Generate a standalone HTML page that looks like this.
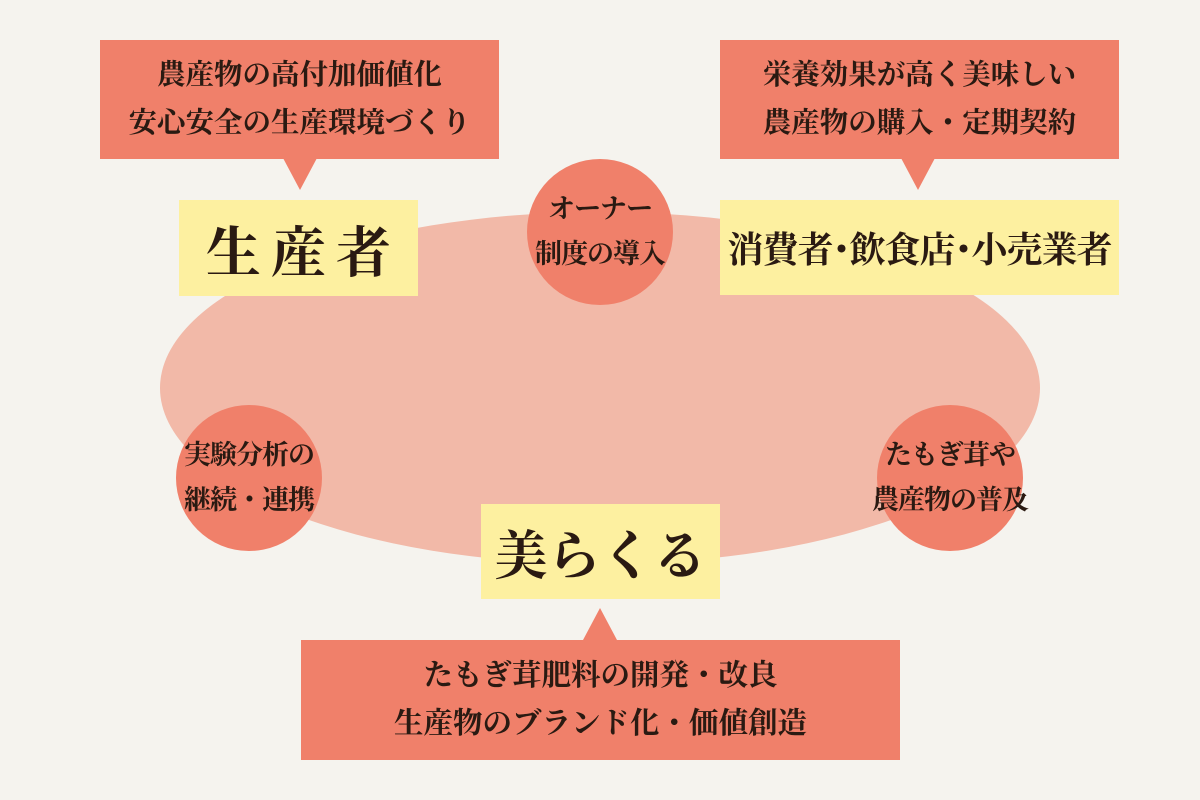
<!DOCTYPE html>
<html><head><meta charset="utf-8"><style>
*{margin:0;padding:0;box-sizing:border-box}
body{width:1200px;height:800px;background:#f5f3ee;position:relative;overflow:hidden;font-family:"Liberation Serif","Noto Serif CJK JP","Noto Serif CJK SC",serif;font-weight:bold;color:#2a1a12}
.a{position:absolute;display:flex;align-items:center;justify-content:center;text-align:center;white-space:nowrap}
.red{background:#f0806a}
.yel{background:#fdf0a0}
.circ{border-radius:50%;background:#f0806a;font-size:27px;line-height:45px;letter-spacing:-1px}
.call{font-size:28.5px;line-height:48px}
.tri{position:absolute;width:0;height:0;border-left:17px solid transparent;border-right:17px solid transparent}
</style></head><body>
<div class="a" style="left:160px;top:212px;width:880px;height:352px;border-radius:50%;background:#f2b9a8"></div>

<div class="a red call" style="left:100px;top:40px;width:399px;height:119px">農産物の高付加価値化<br>安心安全の生産環境づくり</div>
<div class="tri" style="left:283px;top:158px;border-top:32px solid #f0806a"></div>
<div class="a red call" style="left:720px;top:40px;width:399px;height:119px">栄養効果が高く美味しい<br>農産物の購入・定期契約</div>
<div class="tri" style="left:901px;top:158px;border-top:32px solid #f0806a"></div>

<div class="a yel" style="left:179px;top:200px;width:239px;height:96px;font-size:55px;letter-spacing:10px;padding-left:10px">生産者</div>
<div class="a yel" style="left:720px;top:200px;width:399px;height:95px;font-size:36px;letter-spacing:-1px">消費者･飲食店･小売業者</div>

<div class="a circ" style="left:527px;top:159px;width:146px;height:146px">オーナー<br>制度の導入</div>
<div class="a circ" style="left:176px;top:405px;width:146px;height:146px">実験分析の<br>継続・連携</div>
<div class="a circ" style="left:877px;top:405px;width:146px;height:146px">たもぎ茸や<br>農産物の普及</div>

<div class="a yel" style="left:481px;top:504px;width:239px;height:95px;font-size:53px">美らくる</div>

<div class="tri" style="left:583px;top:608px;border-bottom:32px solid #f0806a"></div>
<div class="a red call" style="left:301px;top:640px;width:599px;height:120px;font-size:29.5px">たもぎ茸肥料の開発・改良<br>生産物のブランド化・価値創造</div>
</body></html>
